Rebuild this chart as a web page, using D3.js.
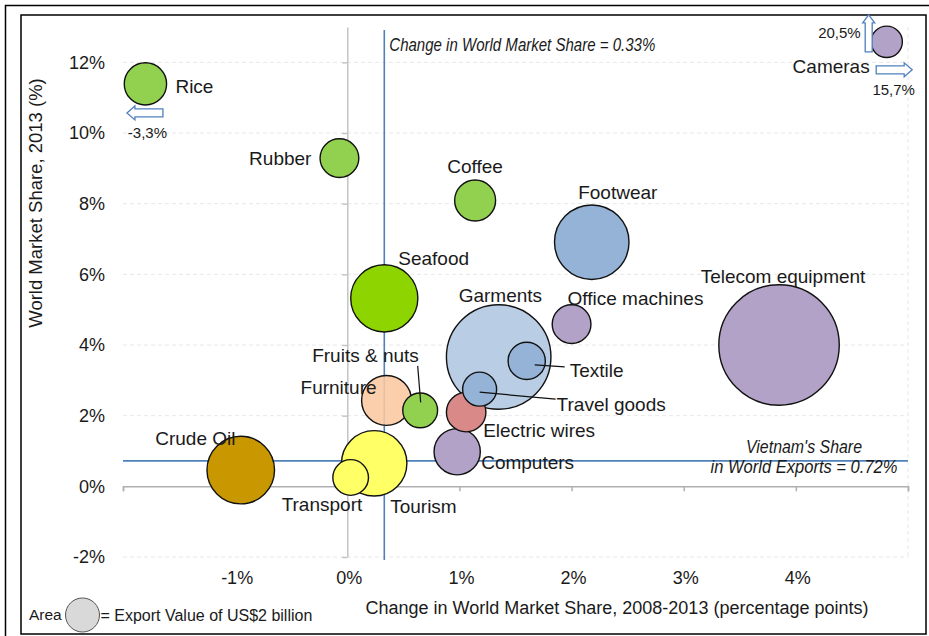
<!DOCTYPE html>
<html><head><meta charset="utf-8">
<script src="https://cdn.jsdelivr.net/npm/d3@7"></script>
<style>
body{margin:0;background:#fff}
text{font-family:"Liberation Sans",Arial,sans-serif;fill:#1a1a1a}
</style>
</head><body>
<svg id="chart" width="929" height="636"></svg>
<script>
// ---------------- DATA ----------------
const products = ["Rice","Rubber","Cameras","Coffee","Footwear","Seafood","Telecom equipment","Office machines","Garments","Textile","Travel goods","Electric wires","Computers","Furniture","Fruits & nuts","Tourism","Transport","Crude Oil"];
// change in world market share 2008-2013 (percentage points), as plotted
const shareChange = [-1.80,-0.07,4.81,1.14,2.18,0.33,3.85,2.00,1.35,1.60,1.18,1.06,0.98,0.35,0.65,0.24,0.03,-0.95];
// world market share 2013 (%), as plotted
const share2013 = [11.39,9.29,12.58,8.09,6.91,5.32,4.00,4.59,3.66,3.55,2.75,2.10,0.98,2.43,2.15,0.65,0.25,0.46];
// export value (US$ billion) -> bubble area
const exportValue = [3.1,2.6,1.7,2.9,9.6,7.8,25.1,2.6,18.9,2.4,2.0,2.7,3.7,4.3,2.1,7.4,2.2,7.9];
const productGroup = ["agri","agri","electronics","agri","leather","seafood","electronics","electronics","garments","leather","leather","wires","electronics","furniture","agri","services","services","oil"];
const groups = ["agri","seafood","leather","garments","electronics","wires","furniture","services","oil"];
const groupColors = ["#92D050","#8ED400","#95B3D7","#B9CDE5","#B3A2C7","#D98A88","#FAC8A0","#FFFF66","#C99800"];
const xTickValues = [-2,-1,0,1,2,3,4,5];
const xTickLabels = ["","-1%","0%","1%","2%","3%","4%",""];
const yTickValues = [-2,0,2,4,6,8,10,12];
const yTickLabels = ["-2%","0%","2%","4%","6%","8%","10%","12%"];
const avgShareChange = 0.33;   // Change in World Market Share
const vietnamWorldShare = 0.72; // Vietnam's share in world exports
const legendValue = 2;          // US$ billion
// off-scale annotations
const offScale = [
  {product:"Rice", text:"-3,3%", dir:"left"},
  {product:"Cameras", text:"20,5%", dir:"up"},
  {product:"Cameras", text:"15,7%", dir:"right"}
];

// ---------------- LAYOUT ----------------
const svg = d3.select("#chart");
const x = d3.scaleLinear().domain([-2,5]).range([123,908]);
const y = d3.scaleLinear().domain([-2,13]).range([557,27]);
const r = d3.scaleSqrt().domain([0,legendValue]).range([0,17]);
const color = d3.scaleOrdinal().domain(groups).range(groupColors);
const blue = "#4F81BD";

// label placement (pixel offsets from bubble centre)
const labelLayout = {
  "Rice":{dx:30,dy:2,anchor:"start"},
  "Rubber":{dx:-28,dy:0,anchor:"end"},
  "Cameras":{dx:-17,dy:25,anchor:"end"},
  "Coffee":{dx:0,dy:-34,anchor:"middle"},
  "Footwear":{dx:26,dy:-50,anchor:"middle"},
  "Seafood":{dx:14,dy:-40,anchor:"start"},
  "Telecom equipment":{dx:4,dy:-69,anchor:"middle"},
  "Office machines":{dx:-4,dy:-26,anchor:"start"},
  "Garments":{dx:-40,dy:-62,anchor:"start"},
  "Textile":{dx:43,dy:9,anchor:"start",leader:[[8,4],[38,6]]},
  "Travel goods":{dx:77,dy:15,anchor:"start",leader:[[0,3],[76,10]]},
  "Electric wires":{dx:17,dy:18,anchor:"start"},
  "Computers":{dx:24,dy:10.5,anchor:"start"},
  "Furniture":{dx:-86,dy:-13,anchor:"start"},
  "Fruits & nuts":{dx:-108,dy:-55,anchor:"start",leader:[[-2.5,-44.5],[0.5,-8]]},
  "Tourism":{dx:16,dy:42.5,anchor:"start"},
  "Transport":{dx:-69,dy:26.5,anchor:"start"},
  "Crude Oil":{dx:-85.5,dy:-32,anchor:"start"}
};

// ---------------- FRAME ----------------
svg.append("rect").attr("x",5.5).attr("y",5.5).attr("width",940).attr("height",640)
  .attr("fill","none").attr("stroke","#000").attr("stroke-width",1.5);
svg.append("rect").attr("x",21).attr("y",15).attr("width",905).attr("height",619)
  .attr("fill","none").attr("stroke","#000").attr("stroke-width",1.5);

// ---------------- GRID ----------------
const grid = svg.append("g");
grid.selectAll("line.h").data(yTickValues.filter(d=>d!==0)).join("line")
  .attr("x1",x(-2)).attr("x2",x(5)).attr("y1",d=>y(d)).attr("y2",d=>y(d))
  .attr("stroke","#e8e8e8").attr("stroke-width",1).attr("stroke-dasharray","4,3");
grid.append("line").attr("x1",x(5)).attr("x2",x(5)).attr("y1",y(13)).attr("y2",y(-2))
  .attr("stroke","#e8e8e8").attr("stroke-width",1).attr("stroke-dasharray","4,3");

// ---------------- AXES ----------------
const xAxis = d3.axisBottom(x).tickValues(xTickValues).tickSize(5).tickFormat("");
const gx = svg.append("g").attr("transform",`translate(0,${y(0)})`).call(xAxis);
gx.select(".domain").attr("stroke","#b0b0b0").attr("stroke-width",1.5);
gx.selectAll(".tick line").attr("stroke","#b0b0b0").attr("stroke-width",1.5);

const yAxis = d3.axisLeft(y).tickValues(yTickValues).tickSize(5).tickSizeOuter(0).tickFormat("");
const gy = svg.append("g").attr("transform",`translate(${x(0)},0)`).call(yAxis);
gy.select(".domain").attr("stroke","#c4c4c4").attr("stroke-width",1.5);
gy.selectAll(".tick line").attr("stroke","#c4c4c4").attr("stroke-width",1.5);

// tick labels in low position
svg.append("g").selectAll("text").data(xTickValues).join("text")
  .attr("x",d=>x(d)+2).attr("y",578).attr("dy","0.35em").attr("text-anchor","middle")
  .attr("font-size",18).text((d,i)=>xTickLabels[i]);
svg.append("g").selectAll("text").data(yTickValues).join("text")
  .attr("x",105).attr("y",d=>y(d)).attr("dy","0.35em").attr("text-anchor","end")
  .attr("font-size",18).text((d,i)=>yTickLabels[i]);

// axis titles
svg.append("text").attr("transform","translate(36,203) rotate(-90)")
  .attr("text-anchor","middle").attr("dy","0.35em").attr("font-size",18.5)
  .text("World Market Share, 2013 (%)");
svg.append("text").attr("x",617).attr("y",608).attr("dy","0.35em")
  .attr("text-anchor","middle").attr("font-size",18)
  .text("Change in World Market Share, 2008-2013 (percentage points)");

// ---------------- REFERENCE LINES ----------------
svg.append("line").attr("x1",x(avgShareChange)).attr("x2",x(avgShareChange))
  .attr("y1",y(13)+3).attr("y2",y(-2)+3).attr("stroke",blue).attr("stroke-width",1.6);
svg.append("line").attr("x1",x(-2)).attr("x2",x(5))
  .attr("y1",y(vietnamWorldShare)).attr("y2",y(vietnamWorldShare)).attr("stroke",blue).attr("stroke-width",1.6);

svg.append("text").attr("x",x(avgShareChange)+5).attr("y",45).attr("dy","0.35em")
  .attr("font-size",18).attr("font-style","italic").attr("textLength",266).attr("lengthAdjust","spacingAndGlyphs")
  .text(`Change in World Market Share = ${avgShareChange}%`);
const vt = svg.append("text").attr("text-anchor","middle").attr("font-size",17.5).attr("font-style","italic");
vt.append("tspan").attr("x",804).attr("y",447).attr("dy","0.35em")
  .attr("textLength",116).attr("lengthAdjust","spacingAndGlyphs").text("Vietnam's Share");
vt.append("tspan").attr("x",804).attr("y",467).attr("dy","0.35em")
  .attr("textLength",187).attr("lengthAdjust","spacingAndGlyphs").text(`in World Exports = ${vietnamWorldShare}%`);

// ---------------- BUBBLES ----------------
const data = products.map((p,i)=>({name:p,cx:shareChange[i],cy:share2013[i],v:exportValue[i],g:productGroup[i]}));
const drawOrder = data.slice().sort((a,b)=>b.v-a.v);
svg.append("g").selectAll("circle").data(drawOrder).join("circle")
  .attr("cx",d=>x(d.cx)).attr("cy",d=>y(d.cy)).attr("r",d=>r(d.v))
  .attr("fill",d=>color(d.g)).attr("fill-opacity",d=>d.name==="Furniture"?0.88:1)
  .attr("stroke","#111").attr("stroke-width",1.4);

// leader lines
const leaders = svg.append("g");
data.forEach(d=>{
  const L = labelLayout[d.name];
  if(L.leader){
    leaders.append("line")
      .attr("x1",x(d.cx)+L.leader[0][0]).attr("y1",y(d.cy)+L.leader[0][1])
      .attr("x2",x(d.cx)+L.leader[1][0]).attr("y2",y(d.cy)+L.leader[1][1])
      .attr("stroke","#111").attr("stroke-width",1.2);
  }
});

// labels
svg.append("g").selectAll("text").data(data).join("text")
  .attr("x",d=>x(d.cx)+labelLayout[d.name].dx)
  .attr("y",d=>y(d.cy)+labelLayout[d.name].dy)
  .attr("dy","0.35em").attr("text-anchor",d=>labelLayout[d.name].anchor)
  .attr("font-size",19).text(d=>d.name);

// ---------------- OFF-SCALE ARROWS ----------------
function hArrow(x0,x1,cy){ // tip at x0
  const dir = Math.sign(x1-x0), hl=8, sw=4, hw=7;
  return `M${x0},${cy} L${x0+dir*hl},${cy-hw} L${x0+dir*hl},${cy-sw} L${x1},${cy-sw} L${x1},${cy+sw} L${x0+dir*hl},${cy+sw} L${x0+dir*hl},${cy+hw} Z`;
}
function vArrow(cx,y0,y1){ // tip at y0
  const hl=8, sw=3.5, hw=6;
  return `M${cx},${y0} L${cx+hw},${y0+hl} L${cx+sw},${y0+hl} L${cx+sw},${y1} L${cx-sw},${y1} L${cx-sw},${y0+hl} L${cx-hw},${y0+hl} Z`;
}
const arrows = svg.append("g");
offScale.forEach(o=>{
  const d = data.find(e=>e.name===o.product);
  const px = x(d.cx), py = y(d.cy);
  if(o.dir==="left"){
    arrows.append("path").attr("d",hArrow(px-18.5,px+17.5,py+29))
      .attr("fill","#fff").attr("stroke",blue).attr("stroke-width",1.3);
    arrows.append("text").attr("x",px+2).attr("y",py+49).attr("dy","0.35em")
      .attr("text-anchor","middle").attr("font-size",15).text(o.text);
  } else if(o.dir==="up"){
    arrows.append("path").attr("d",vArrow(px-18,py-27,py+10))
      .attr("fill","#fff").attr("stroke",blue).attr("stroke-width",1.3);
    arrows.append("text").attr("x",px-26).attr("y",py-9).attr("dy","0.35em")
      .attr("text-anchor","end").attr("font-size",15).text(o.text);
  } else {
    arrows.append("path").attr("d",hArrow(px+25.5,px-10.5,py+28))
      .attr("fill","#fff").attr("stroke",blue).attr("stroke-width",1.3);
    arrows.append("text").attr("x",px+7).attr("y",py+48).attr("dy","0.35em")
      .attr("text-anchor","middle").attr("font-size",15).text(o.text);
  }
});

// ---------------- SIZE LEGEND ----------------
const lg = svg.append("g");
lg.append("text").attr("x",29).attr("y",615).attr("dy","0.35em").attr("font-size",15.5).text("Area");
lg.append("circle").attr("cx",82.5).attr("cy",615).attr("r",r(legendValue))
  .attr("fill","#d9d9d9").attr("stroke","#555").attr("stroke-width",1);
lg.append("text").attr("x",100.5).attr("y",615).attr("dy","0.35em").attr("font-size",16)
  .text(`= Export Value of US$${legendValue} billion`);
</script>
</body></html>
